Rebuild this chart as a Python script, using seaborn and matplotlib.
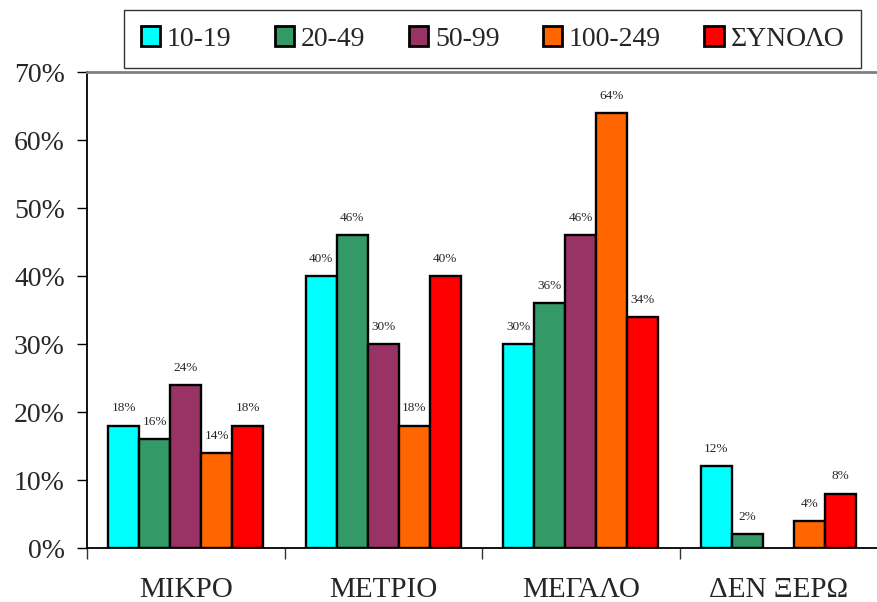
import numpy as np
import pandas as pd
import seaborn as sns
import matplotlib.pyplot as plt
from matplotlib.ticker import FixedLocator, PercentFormatter

# Data
categories = ['ΜΙΚΡΟ', 'ΜΕΤΡΙΟ', 'ΜΕΓΑΛΟ', 'ΔΕΝ ΞΕΡΩ']
groups = ['10-19', '20-49', '50-99', '100-249', 'ΣΥΝΟΛΟ']
vals_10_19 = [18, 40, 30, 12]
vals_20_49 = [16, 46, 36, 2]
vals_50_99 = [24, 30, 46, np.nan]
vals_100_249 = [14, 18, 64, 4]
vals_total = [18, 40, 34, 8]
colors = ['#00FFFF', '#339966', '#993366', '#FF6600', '#FF0000']

series = [vals_10_19, vals_20_49, vals_50_99, vals_100_249, vals_total]
rows = []
for g, vals in zip(groups, series):
    for c, v in zip(categories, vals):
        rows.append({'cat': c, 'group': g, 'value': v})
df = pd.DataFrame(rows)

sns.set_theme(style='white')
plt.rcParams['font.family'] = ['Liberation Serif', 'DejaVu Serif']

fig = plt.figure(figsize=(8.77, 6.02), dpi=100)
ax = fig.add_axes([87 / 877, 1 - 548 / 602, 1 - 87 / 877, (548 - 72) / 602])

sns.barplot(data=df, x='cat', y='value', hue='group', order=categories,
            hue_order=groups, palette=colors, width=0.785, gap=0,
            edgecolor='black', linewidth=1.7, saturation=1, ax=ax, legend=True)

for cont in ax.containers:
    ax.bar_label(cont, fmt='{:.0f}%', padding=8, fontsize=9.5)

ax.set_xlim(-0.5, 3.5)
ax.set_ylim(0, 70)
ax.set_yticks(range(0, 71, 10))
ax.yaxis.set_major_formatter(PercentFormatter(decimals=0))
ax.tick_params(axis='y', which='major', direction='out', length=7, width=1,
               left=True, labelsize=20, pad=9, color='black')
ax.xaxis.set_minor_locator(FixedLocator([-0.5, 0.5, 1.5, 2.5]))
ax.tick_params(axis='x', which='major', length=0, labelsize=21, pad=21)
ax.tick_params(axis='x', which='minor', direction='out', length=8, width=1,
               bottom=True, color='#333333')
ax.set_xlabel('')
ax.set_ylabel('')

for side in ['left', 'bottom']:
    ax.spines[side].set_color('black')
    ax.spines[side].set_linewidth(1.3)
ax.spines['top'].set_color('#808080')
ax.spines['top'].set_linewidth(2)
ax.spines['right'].set_visible(False)

handles, labels = ax.get_legend_handles_labels()
ax.legend_.remove()
leg = fig.legend(handles, labels, loc='center', ncol=5,
                 bbox_to_anchor=(492.5 / 877, 1 - 39 / 602),
                 frameon=True, fancybox=False, edgecolor='black',
                 fontsize=20, handlelength=0.7, handleheight=0.7,
                 handletextpad=0.25, columnspacing=1.55, borderpad=0.6)
leg.get_frame().set_linewidth(1)
for h in leg.legend_handles:
    h.set_linewidth(2)

fig.savefig('out.png', dpi=100)
